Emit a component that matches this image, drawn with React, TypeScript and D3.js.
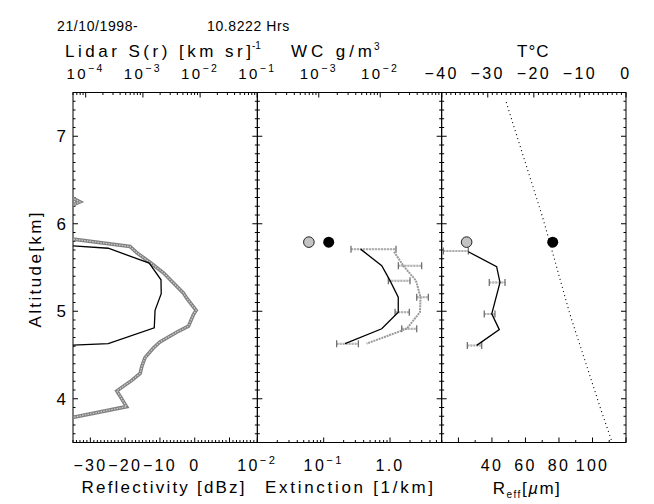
import * as d3 from "d3";

// altitude axis (km)
const altTicks = d3.range(35, 76).map((v) => v / 10);
const altLabels = [4, 5, 6, 7];

// panel 1: lidar S(r) (top, log) and radar reflectivity (bottom)
const lidarAlt = [5.75, 5.72, 5.55, 5.36, 5.2, 5.01, 4.81, 4.63, 4.61];
const lidarS = [5e-5, 2.48e-4, 1.29e-3, 2.07e-3, 2.09e-3, 1.63e-3, 1.58e-3, 2.48e-4, 5e-5];
const radarAlt = [6.31, 6.25, 6.2, 5.83, 5.74, 5.67, 5.56, 5.44, 5.21, 5.15, 5.01, 4.96, 4.83, 4.76, 4.65, 4.58, 4.47, 4.37, 4.29, 4.21, 4.09, 3.91, 3.78];
const radarDbz = [-36, -33.0, -36, -36, -18.6, -16.7, -12.9, -9.0, -3.3, -2.3, 0.4, -0.4, -1.8, -5.2, -10.0, -11.9, -14.3, -15.2, -15.7, -18.1, -22.4, -19.6, -36];

// panel 2: extinction (bottom, log) and water content (top, log)
const extAlt = [5.71, 5.52, 5.35, 5.16, 4.99, 4.8, 4.63];
const extVal = [0.36, 0.75, 1.0, 1.33, 1.33, 0.75, 0.21];
const extErrAlt = [5.71, 5.35, 4.99, 4.63];
const extErrLo = [0.258, 0.942, 1.19, 0.157];
const extErrHi = [1.23, 2.0, 1.95, 0.333];
const wcAlt = [5.68, 5.52, 5.35, 5.16, 4.99, 4.8, 4.63];
const wcVal = [0.0168, 0.0238, 0.0382, 0.0453, 0.0444, 0.027, 0.006];
const wcErrAlt = [5.52, 5.16, 4.8];
const wcErrLo = [0.0197, 0.0393, 0.0224];
const wcErrHi = [0.0473, 0.0607, 0.0393];
const insituAlt = 5.79;
const insituWc = 6.9e-4;
const insituExt = 0.119;

// panel 3: effective radius (bottom) and temperature (top)
const reffAlt = [5.68, 5.51, 5.33, 4.97, 4.79, 4.61];
const reffVal = [25.9, 42.8, 44.8, 39.9, 44.4, 30.9];
const reffErrAlt = [5.69, 5.33, 4.97, 4.61];
const reffErrLo = [11.0, 38.4, 35.4, 25.3];
const reffErrHi = [25.9, 47.8, 41.8, 33.9];
const insituReff = 24.9;
const insituT = -15.9;
const tempAlt = [7.39, 6.04, 4.97, 3.9, 3.5];
const tempVal = [-26.0, -17.9, -12.2, -5.6, -3.0];

const W = 654;
const H = 504;
const top = 92.5;
const bottom = 442.5;
const left = 73;
const right = 626;
const pw = (right - left) / 3;
const px = [0, 1, 2].map((i) => left + i * pw);

const y = d3.scaleLinear().domain([3.5, 7.5]).range([bottom, top]);
const x1t = d3.scaleLog().domain([6e-5, 0.1]).range([px[0], px[0] + pw]);
const x1b = d3.scaleLinear().domain([-35, 18]).range([px[0], px[0] + pw]);
const x2t = d3.scaleLog().domain([1e-4, 0.1]).range([px[1], px[1] + pw]);
const x2b = d3.scaleLog().domain([0.01, 6]).range([px[1], px[1] + pw]);
const x3t = d3.scaleLinear().domain([-40, 0]).range([px[2], px[2] + pw]);
const x3b = d3.scaleLinear().domain([10, 120]).range([px[2], px[2] + pw]);

const FONT = "Liberation Sans";
const isDecade = (v: number) => Math.abs(Math.log10(v) - Math.round(Math.log10(v))) < 1e-6;

function path(xs: number[], alts: number[], sx: any) {
  return d3
    .line<number>()
    .x((_, i) => sx(xs[i]))
    .y((a) => y(a))(alts) as string;
}

function hTicks(sx: any, vals: number[], major: (v: number) => boolean, edge: number, dir: number, k: string) {
  return vals.map((v, i) => {
    const x = sx(v);
    const len = major(v) ? 5 : 2.5;
    return <line key={k + i} x1={x} x2={x} y1={edge} y2={edge + dir * len} />;
  });
}

function vTicks(xEdge: number, dir: number, k: string) {
  return altTicks.map((a, i) => {
    const len = Math.abs(a - Math.round(a)) < 1e-6 ? 5 : 2.5;
    return <line key={k + i} x1={xEdge} x2={xEdge + dir * len} y1={y(a)} y2={y(a)} />;
  });
}

function Pow({ x, yy, v, size }: { x: number; yy: number; v: number; size: number }) {
  const e = Math.round(Math.log10(v));
  return (
    <text x={x} y={yy} textAnchor="middle" fontSize={size} letterSpacing={2.4}>
      10
      <tspan dy={-size * 0.45} fontSize={size * 0.7}>{`\u2212${-e}`}</tspan>
    </text>
  );
}

function ErrBars({ alts, lo, hi, sx, k }: any) {
  return (
    <g>
      {alts.map((a: number, i: number) => {
        const yy = y(a);
        const xa = sx(lo[i]);
        const xb = sx(hi[i]);
        return (
          <g key={k + i}>
            <line x1={xa} x2={xb} y1={yy} y2={yy} stroke="#9a9a9a" strokeWidth={2} strokeDasharray="2 1" />
            <line x1={xa} x2={xb} y1={yy} y2={yy} stroke="#c8c8c8" strokeWidth={0.8} />
            <line x1={xa} x2={xa} y1={yy - 3.5} y2={yy + 3.5} stroke="#666" strokeWidth={1.2} />
            <line x1={xb} x2={xb} y1={yy - 3.5} y2={yy + 3.5} stroke="#666" strokeWidth={1.2} />
          </g>
        );
      })}
    </g>
  );
}

export default function App() {
  const botY = 471;
  const topY = 79;
  return (
    <svg
      width={W}
      height={H}
      viewBox={`0 0 ${W} ${H}`}
      style={{ position: "absolute", left: 0, top: 0, background: "#fff" }}
      fontFamily={FONT}
    >
      <defs>
        {px.map((x0, i) => (
          <clipPath id={`clip${i}`} key={i}>
            <rect x={x0} y={top} width={pw} height={bottom - top} />
          </clipPath>
        ))}
      </defs>

      {/* header */}
      <text x={57} y={31} fontSize={14} letterSpacing={0.6}>21/10/1998-</text>
      <text x={207} y={31} fontSize={14} letterSpacing={0.6}>10.8222 Hrs</text>

      {/* top titles */}
      <text x={65} y={57} fontSize={17} textLength={186} lengthAdjust="spacing">Lidar S(r) [km sr]</text>
      <text x={252} y={49} fontSize={10}>-1</text>
      <text x={291} y={57} fontSize={17} textLength={81} lengthAdjust="spacing">WC g/m</text>
      <text x={374} y={50} fontSize={10}>3</text>
      <text x={517} y={57} fontSize={17} letterSpacing={1}>T°C</text>

      {/* top tick labels */}
      {[1e-4, 1e-3, 1e-2, 1e-1].map((v) => (
        <Pow key={"t1" + v} x={x1t(v)} yy={topY} v={v} size={15} />
      ))}
      {[1e-3, 1e-2].map((v) => (
        <Pow key={"t2" + v} x={x2t(v)} yy={topY} v={v} size={15} />
      ))}
      {[-40, -30, -20, -10, 0].map((v) => (
        <text key={"t3" + v} x={x3t(v)} y={topY} textAnchor="middle" fontSize={16} letterSpacing={2.4}>
          {v < 0 ? `\u2212${-v}` : `${v}`}
        </text>
      ))}

      {/* bottom tick labels */}
      {[-30, -20, -10, 0].map((v) => (
        <text key={"b1" + v} x={x1b(v)} y={botY} textAnchor="middle" fontSize={16} letterSpacing={2.2}>
          {v < 0 ? `\u2212${-v}` : `${v}`}
        </text>
      ))}
      <Pow x={x2b(0.01)} yy={botY} v={0.01} size={16} />
      <Pow x={x2b(0.1)} yy={botY} v={0.1} size={16} />
      <text x={x2b(1)} y={botY} textAnchor="middle" fontSize={16} letterSpacing={2.2}>1.0</text>
      {[40, 60, 80, 100].map((v) => (
        <text key={"b3" + v} x={x3b(v)} y={botY} textAnchor="middle" fontSize={16} letterSpacing={2.2}>
          {v}
        </text>
      ))}

      {/* bottom titles */}
      <text x={163} y={493} textAnchor="middle" fontSize={17} textLength={163} lengthAdjust="spacing">Reflectivity [dBz]</text>
      <text x={349} y={493} textAnchor="middle" fontSize={17} textLength={168} lengthAdjust="spacing">Extinction [1/km]</text>
      <text x={527} y={494} textAnchor="middle" fontSize={17} letterSpacing={1.5}>
        R<tspan dy={4} fontSize={10}>eff</tspan>
        <tspan dy={-4}>[</tspan>
        <tspan fontStyle="italic">µ</tspan>m]
      </text>

      {/* y axis */}
      {altLabels.map((a) => (
        <text key={"a" + a} x={66} y={y(a) + 6} textAnchor="end" fontSize={17}>
          {a}
        </text>
      ))}
      <text
        transform={`translate(41,270) rotate(-90)`}
        textAnchor="middle"
        fontSize={17}
        textLength={115}
        lengthAdjust="spacing"
      >
        Altitude[km]
      </text>

      {/* frames and ticks */}
      <g stroke="#000" strokeWidth={1} fill="none">
        {px.map((x0, i) => (
          <rect key={"f" + i} x={x0} y={top} width={pw} height={bottom - top} />
        ))}
        {px.map((x0, i) => (
          <g key={"v" + i}>
            {vTicks(x0, 1, `vl${i}`)}
            {vTicks(x0 + pw, -1, `vr${i}`)}
          </g>
        ))}
        {hTicks(x1t, x1t.ticks(), isDecade, top, 1, "ht1")}
        {hTicks(x2t, x2t.ticks(), isDecade, top, 1, "ht2")}
        {hTicks(x3t, d3.range(-40, 1), (v) => v % 10 === 0, top, 1, "ht3")}
        {hTicks(x1b, d3.range(-35, 19), (v) => v % 10 === 0, bottom, -1, "hb1")}
        {hTicks(x2b, x2b.ticks(), isDecade, bottom, -1, "hb2")}
        {hTicks(x3b, d3.range(10, 121, 10), (v) => v % 20 === 0, bottom, -1, "hb3")}
      </g>

      {/* panel 1 */}
      <g clipPath="url(#clip0)" fill="none">
        <path d={path(radarDbz, radarAlt, x1b)} stroke="#808080" strokeWidth={3.6} />
        <path d={path(radarDbz, radarAlt, x1b)} stroke="#cfcfcf" strokeWidth={1.3} strokeDasharray="1.5 1.2" />
        <path d={path(lidarS, lidarAlt, x1t)} stroke="#000" strokeWidth={1.3} />
      </g>

      {/* panel 2 */}
      <g clipPath="url(#clip1)" fill="none">
        <ErrBars alts={extErrAlt} lo={extErrLo} hi={extErrHi} sx={x2b} k="e" />
        <ErrBars alts={wcErrAlt} lo={wcErrLo} hi={wcErrHi} sx={x2t} k="w" />
        <path d={path(wcVal, wcAlt, x2t)} stroke="#9a9a9a" strokeWidth={2} strokeDasharray="2 0.8" />
        <path d={path(extVal, extAlt, x2b)} stroke="#000" strokeWidth={1.3} />
        <circle cx={x2t(insituWc)} cy={y(insituAlt)} r={5.3} fill="#c4c4c4" stroke="#222" strokeWidth={1} />
        <circle cx={x2b(insituExt)} cy={y(insituAlt)} r={5.5} fill="#000" />
      </g>

      {/* panel 3 */}
      <g clipPath="url(#clip2)" fill="none">
        <path d={path(tempVal, tempAlt, x3t)} stroke="#000" strokeWidth={1.1} strokeDasharray="1 3.2" />
        <ErrBars alts={reffErrAlt} lo={reffErrLo} hi={reffErrHi} sx={x3b} k="r" />
        <path d={path(reffVal, reffAlt, x3b)} stroke="#000" strokeWidth={1.3} />
        <circle cx={x3b(insituReff)} cy={y(insituAlt)} r={5.3} fill="#c4c4c4" stroke="#222" strokeWidth={1} />
        <circle cx={x3t(insituT)} cy={y(insituAlt)} r={5.5} fill="#000" />
      </g>
    </svg>
  );
}
